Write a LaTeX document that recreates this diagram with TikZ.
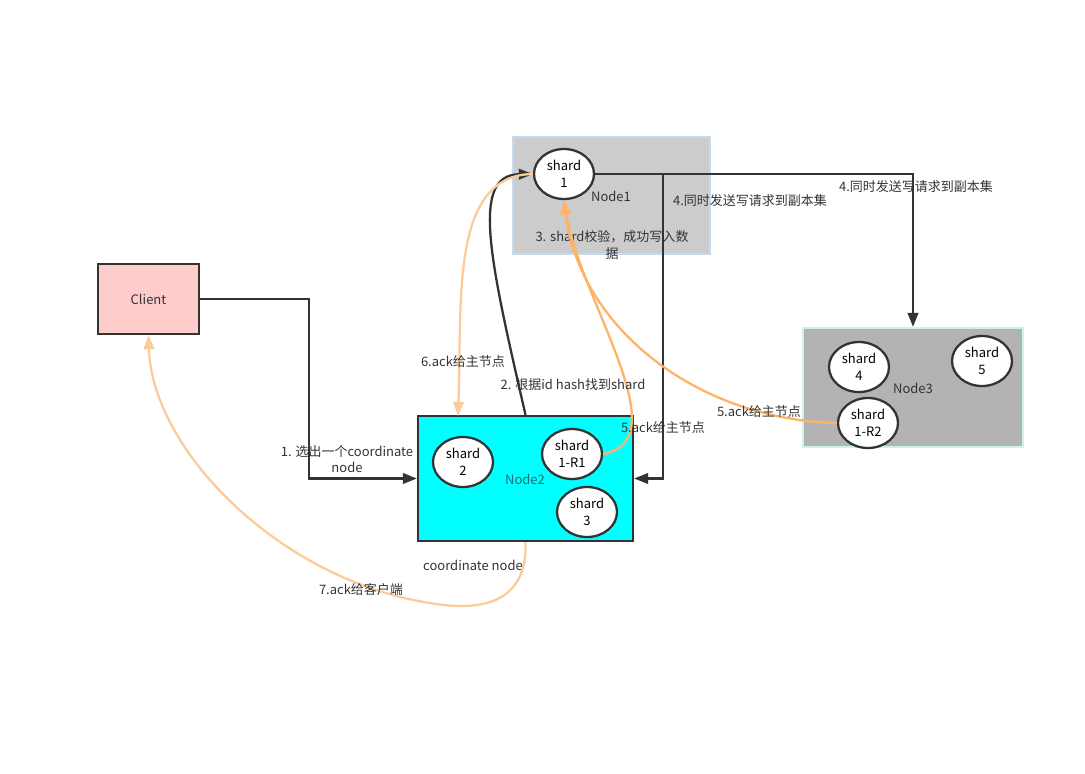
\documentclass[tikz,border=0pt]{standalone}
\usepackage{fontspec}
\setmainfont{Noto Sans CJK SC}
\usepackage{xcolor}
\usetikzlibrary{arrows.meta,shapes.geometric}

\definecolor{inkgray}{HTML}{333333}
\definecolor{clientpink}{HTML}{FFCCCC}
\definecolor{nodeonegray}{HTML}{CCCCCC}
\definecolor{nodeoneedge}{HTML}{C5DAEE}
\definecolor{nodetwocyan}{HTML}{00FFFF}
\definecolor{nodethreegray}{HTML}{B3B3B3}
\definecolor{nodethreeedge}{HTML}{C8F5E5}
\definecolor{ackorange}{HTML}{FFB366}
\definecolor{ackpeach}{HTML}{FBCB9A}
\definecolor{tealtext}{HTML}{19707A}

\tikzset{
	hostbox/.style={draw=inkgray, line width=1.3pt, inner sep=0pt},
	shardnode/.style={ellipse, draw=inkgray, fill=white, line width=1.3pt, minimum width=1.2cm, minimum height=1cm, inner sep=0pt, align=center},
	lbl/.style={inner sep=0pt, align=center, text=inkgray},
	reqline/.style={draw=inkgray, line width=1.3pt},
	ackline/.style={draw=ackorange, line width=1.3pt},
}

\begin{document}
\begin{tikzpicture}[x=0.02cm, y=-0.02cm, font=\fontsize{7.4}{9.5}\selectfont, >={Triangle[length=8pt,width=6pt]}]
		\useasboundingbox (0,0) rectangle (1085,774);
		%
		\node[hostbox, fill=clientpink, minimum width=2.02cm, minimum height=1.4cm, text=inkgray] (client) at (148.5,299) {Client};
		\node[hostbox, draw=nodeoneedge, fill=nodeonegray, minimum width=3.94cm, minimum height=2.34cm] (n1) at (611.5,195.5) {};
		\node[hostbox, fill=nodetwocyan, minimum width=4.3cm, minimum height=2.5cm] (n2) at (525.5,478.5) {};
		\node[hostbox, draw=nodethreeedge, fill=nodethreegray, minimum width=4.4cm, minimum height=2.38cm] (n3) at (913,387.5) {};
		%
		\node[lbl] at (611,196) {Node1};
		\node[lbl, text=tealtext] at (525,479) {Node2};
		\node[lbl] at (913,388) {Node3};
		\node[lbl] at (473,565) {coordinate node};
		\node[lbl] (t3) at (612,245) {3. shard校验，成功写入数\\据};
		%
		\node[shardnode] (s1) at (564,174) {shard\\1};
		\node[shardnode] (s2) at (463,462) {shard\\2};
		\node[shardnode] (s1r1) at (572,454) {shard\\1-R1};
		\node[shardnode] (s3) at (587,512) {shard\\3};
		\node[shardnode] (s4) at (859,367) {shard\\4};
		\node[shardnode] (s5) at (982,361) {shard\\5};
		\node[shardnode] (s1r2) at (868,423) {shard\\1-R2};
		%
		\coordinate (c1) at (309,299);
		\coordinate (c4a) at (663,174);
		\coordinate (c4b) at (913,174);
		\coordinate (c6) at (458,416);
		\coordinate (c7) at (430,603);
		%
		\draw[reqline, ->] (client.east) -- (c1) |- (n2.west);
		\draw[reqline, ->] (n2.north) .. controls (490,260) and (470,175) .. (s1.west);
		\draw[reqline, ->] (s1.east) -- (c4a) |- (n2.east);
		\draw[reqline, ->] (s1.east) -- (c4b) -- (n3.north);
		%
		\draw[ackline, ->] (s1r1.east) .. controls (680,440) and (580,300) .. (s1.south);
		\draw[ackline, ->] (s1r2.west) .. controls (700,420) and (580,330) .. (s1.south);
		\draw[ackline, draw=ackpeach, ->] (s1.west) .. controls (450,175) and (462,300) .. (c6);
		\draw[ackline, draw=ackpeach, ->] (n2.south) .. controls (528,610) and (470,610) .. (c7) .. controls (280,580) and (152,450) .. (client.south);
		%
		\node[lbl] at (347,459) {1. 选出一个coordinate\\node};
		\node[lbl] at (573,385) {2. 根据id hash找到shard};
		\node[lbl] at (750,201) {4.同时发送写请求到副本集};
		\node[lbl] at (916,187) {4.同时发送写请求到副本集};
		\node[lbl] at (663,428) {5.ack给主节点};
		\node[lbl] at (759,412) {5.ack给主节点};
		\node[lbl] at (463,362) {6.ack给主节点};
		\node[lbl] at (361,590) {7.ack给客户端};
\end{tikzpicture}
\end{document}
